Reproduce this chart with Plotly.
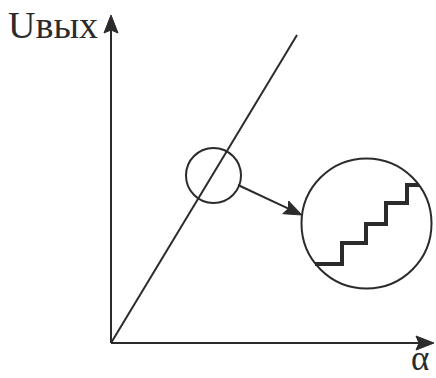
import math
import plotly.graph_objects as go

# --- data (chart units: alpha to the right, U upward, origin at axes crossing) ---
axis_x_end = 323
axis_y_end = 328
line_alpha = [0, 186]
line_u = [0, 308]
zoom_center = [102.5, 167.5]
zoom_radius = 27.5
mag_center = [255.5, 119.5]
mag_radius = 65
link_from = [127, 158]
link_to = [191, 128]
step_alpha = [204, 231, 231, 255, 255, 275, 275, 296, 296, 308]
step_u = [79, 79, 100, 100, 119, 119, 140, 140, 158, 158]
y_label = "Uвых"
x_label = "α"

INK = "#2b2b2b"
HEAD_LEN = 18
HEAD_HALF = 7
HEAD_NOTCH = 3

fig = go.Figure()
shapes = []


def arrow(tail, tip):
    dx, dy = tip[0] - tail[0], tip[1] - tail[1]
    n = math.hypot(dx, dy)
    ux, uy = dx / n, dy / n
    px, py = -uy, ux
    bx, by = tip[0] - HEAD_LEN * ux, tip[1] - HEAD_LEN * uy
    mx, my = tip[0] - (HEAD_LEN - HEAD_NOTCH) * ux, tip[1] - (HEAD_LEN - HEAD_NOTCH) * uy
    fig.add_trace(go.Scatter(x=[tail[0], mx], y=[tail[1], my], mode="lines",
                             line=dict(color=INK, width=2), hoverinfo="skip"))
    path = (f"M{tip[0]},{tip[1]} L{bx + HEAD_HALF * px},{by + HEAD_HALF * py} "
            f"L{mx},{my} L{bx - HEAD_HALF * px},{by - HEAD_HALF * py} Z")
    shapes.append(dict(type="path", xref="x", yref="y", path=path,
                       fillcolor=INK, line=dict(color=INK, width=1)))


arrow((0, 0), (axis_x_end, 0))
arrow((0, 0), (0, axis_y_end))
arrow(link_from, link_to)

fig.add_trace(go.Scatter(x=line_alpha, y=line_u, mode="lines",
                         line=dict(color=INK, width=2), hoverinfo="skip"))
fig.add_trace(go.Scatter(x=step_alpha, y=step_u, mode="lines",
                         line=dict(color=INK, width=4), hoverinfo="skip"))

for c, r in [(zoom_center, zoom_radius), (mag_center, mag_radius)]:
    shapes.append(dict(type="circle", xref="x", yref="y",
                       x0=c[0] - r, x1=c[0] + r, y0=c[1] - r, y1=c[1] + r,
                       line=dict(color=INK, width=2)))

ann = []
ann.append(dict(x=-11, y=318, xref="x", yref="y", text=y_label, showarrow=False,
                xanchor="right", yanchor="middle",
                font=dict(family="Liberation Serif", size=38, color=INK)))
ann.append(dict(x=309, y=-35, xref="x", yref="y", text=x_label, showarrow=False,
                xanchor="center", yanchor="bottom", yshift=-2,
                font=dict(family="Liberation Serif", size=35, color=INK)))

fig.update_layout(
    width=436, height=378,
    margin=dict(l=0, r=0, t=0, b=0),
    paper_bgcolor="white", plot_bgcolor="white",
    showlegend=False,
    xaxis=dict(range=[-111, 325], visible=False, fixedrange=True),
    yaxis=dict(range=[-35, 343], visible=False, fixedrange=True),
    shapes=shapes,
    annotations=ann,
)

fig.write_html("out.html", config={"displayModeBar": False},
               post_script="document.body.style.margin='0px';document.body.style.overflow='hidden';")
